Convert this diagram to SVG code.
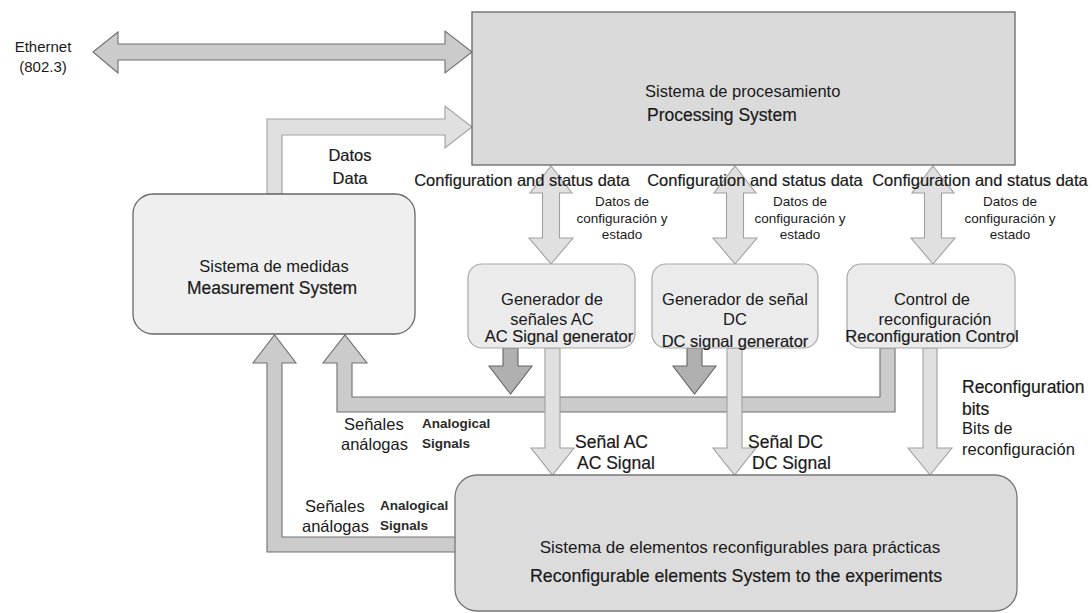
<svg xmlns="http://www.w3.org/2000/svg" width="1092" height="613" viewBox="0 0 1092 613">
<style>
text{font-family:"Liberation Sans",Arial,sans-serif;fill:#1a1a1a}
.c{text-anchor:middle}
.t16{font-size:16.5px}
.t17{font-size:17.5px}
.t13{font-size:13.5px}
.t14{font-size:13.5px;font-weight:bold;fill:#2a2a2a}
.u{stroke:#1a1a1a;stroke-width:0.2}
.box{stroke:#666;stroke-width:1.3}
.arrM{fill:#cbcbcb;stroke:#707070;stroke-width:1.1;stroke-linejoin:miter}
.arrD{fill:#b0b0b0;stroke:#666;stroke-width:1.1}
.arrL{fill:#e0e0e0;stroke:#a0a0a0;stroke-width:1.1}
</style>
<rect width="1092" height="613" fill="#fff"/>

<g id="connectors">
  <!-- Ethernet double arrow -->
  <polygon class="arrM" points="93,52 118,32 118,44 445,44 445,31 472,52 445,73 445,60 118,60 118,73"/>
  <!-- Data arrow -->
  <polygon class="arrL" points="267,194 267,119 445,119 445,106 472,127 445,148 445,135 282,135 282,194"/>
  <!-- Config double arrows -->
  <polygon class="arrL" points="551,166 572,193 559.5,193 559.5,238 573,238 551,264 529,238 542.5,238 542.5,193 530,193"/>
  <polygon class="arrL" points="735,166 756,193 743.5,193 743.5,238 757,238 735,264 713,238 726.5,238 726.5,193 714,193"/>
  <polygon class="arrL" points="933,166 954,193 941.5,193 941.5,238 955,238 933,264 911,238 924.5,238 924.5,193 912,193"/>
  <!-- Control -> measurement (analog signals bus) -->
  <polygon class="arrM" points="880,348 895,348 895,412 352,412 337,412 337,363 323,363 345,335 367,363 352,363 352,397 880,397"/>
  <!-- Dark down arrows from generators -->
  <polygon class="arrD" points="503,348 518,348 518,366 532,366 510.5,394 489,366 503,366"/>
  <polygon class="arrD" points="687,348 702,348 702,366 716,366 694.5,394 673,366 687,366"/>
  <!-- Light down arrows to reconfigurable system -->
  <polygon class="arrL" points="545,348 560,348 560,448 574,448 552.5,475 531,448 545,448"/>
  <polygon class="arrL" points="727,348 742,348 742,448 756,448 734.5,475 713,448 727,448"/>
  <polygon class="arrL" points="923,348 937,348 937,448 952,448 930,475 908,448 923,448"/>
  <!-- Reconfigurable system -> measurement -->
  <polygon class="arrM" points="457,537 282,537 282,363 296,363 274.5,335 253,363 267,363 267,552 457,552"/>
</g>

<g id="processing">
  <rect class="box" x="472" y="12" width="543" height="153" fill="#dadada"/>
  <text class="t16" x="645" y="97">Sistema de procesamiento</text>
  <text class="t17 u" x="647" y="121">Processing System</text>
</g>

<g id="measurement">
  <rect class="box" x="133" y="194" width="282" height="140" rx="20" fill="#efefef" stroke="#555"/>
  <text class="t16 c" x="274" y="272">Sistema de medidas</text>
  <text class="t17 c u" x="272" y="294">Measurement System</text>
</g>

<g id="ac-generator">
  <rect x="468" y="264" width="167" height="84" rx="14" fill="#ebebeb" stroke="#a8a8a8" stroke-width="1.2"/>
  <text class="t16 c" x="552" y="305">Generador de</text>
  <text class="t16 c" x="552" y="325">señales AC</text>
  <text class="t16 c u" x="559" y="342">AC Signal generator</text>
</g>

<g id="dc-generator">
  <rect x="652" y="264" width="166" height="84" rx="14" fill="#ebebeb" stroke="#a8a8a8" stroke-width="1.2"/>
  <text class="t16 c" x="735" y="305">Generador de señal</text>
  <text class="t16 c" x="735" y="325">DC</text>
  <text class="t16 c u" x="735" y="347">DC signal generator</text>
</g>

<g id="reconfiguration-control">
  <rect x="847" y="264" width="168" height="84" rx="14" fill="#ebebeb" stroke="#a8a8a8" stroke-width="1.2"/>
  <text class="t16 c" x="932" y="305">Control de</text>
  <text class="t16 c" x="935" y="325">reconfiguración</text>
  <text class="t16 c u" x="932" y="342">Reconfiguration Control</text>
</g>

<g id="reconfigurable-system">
  <rect x="455" y="475" width="562" height="136" rx="22" fill="#dcdcdc" stroke="#777" stroke-width="1.3"/>
  <text class="c" style="font-size:17px" x="740" y="553">Sistema de elementos reconfigurables para prácticas</text>
  <text class="c u" style="font-size:17.8px" x="736" y="582">Reconfigurable elements System to the experiments</text>
</g>

<g id="labels">
  <text class="c" style="font-size:15px" x="43" y="52">Ethernet</text>
  <text class="c" style="font-size:15px" x="43" y="72">(802.3)</text>
  <text class="t16 c u" x="350" y="161">Datos</text>
  <text class="t16 c u" x="350" y="184">Data</text>

  <text class="t16 c u" x="522" y="186">Configuration and status data</text>
  <text class="t16 c u" x="755" y="186">Configuration and status data</text>
  <text class="t16 c u" x="980" y="186">Configuration and status data</text>

  <text class="t13 c" x="622" y="206">Datos de</text>
  <text class="t13 c" x="622" y="223">configuración y</text>
  <text class="t13 c" x="622" y="239">estado</text>
  <text class="t13 c" x="800" y="206">Datos de</text>
  <text class="t13 c" x="800" y="223">configuración y</text>
  <text class="t13 c" x="800" y="239">estado</text>
  <text class="t13 c" x="1010" y="206">Datos de</text>
  <text class="t13 c" x="1010" y="223">configuración y</text>
  <text class="t13 c" x="1010" y="239">estado</text>

  <text class="t16" x="344" y="430">Señales</text>
  <text class="t16" x="341" y="450">análogas</text>
  <text class="t14" x="422" y="428">Analogical</text>
  <text class="t14" x="422" y="448">Signals</text>

  <text class="t16" x="305" y="512">Señales</text>
  <text class="t16" x="302" y="532">análogas</text>
  <text class="t14" x="380" y="510">Analogical</text>
  <text class="t14" x="380" y="530">Signals</text>

  <text class="t17 u" x="575" y="448">Señal AC</text>
  <text class="t17 u" x="577" y="469">AC Signal</text>
  <text class="t17 u" x="748" y="448">Señal DC</text>
  <text class="t17 u" x="752" y="469">DC Signal</text>

  <text class="t17 u" x="962" y="393">Reconfiguration</text>
  <text class="t17 u" x="962" y="415">bits</text>
  <text class="t16" x="962" y="434">Bits de</text>
  <text class="t16" x="962" y="455">reconfiguración</text>
</g>
</svg>
